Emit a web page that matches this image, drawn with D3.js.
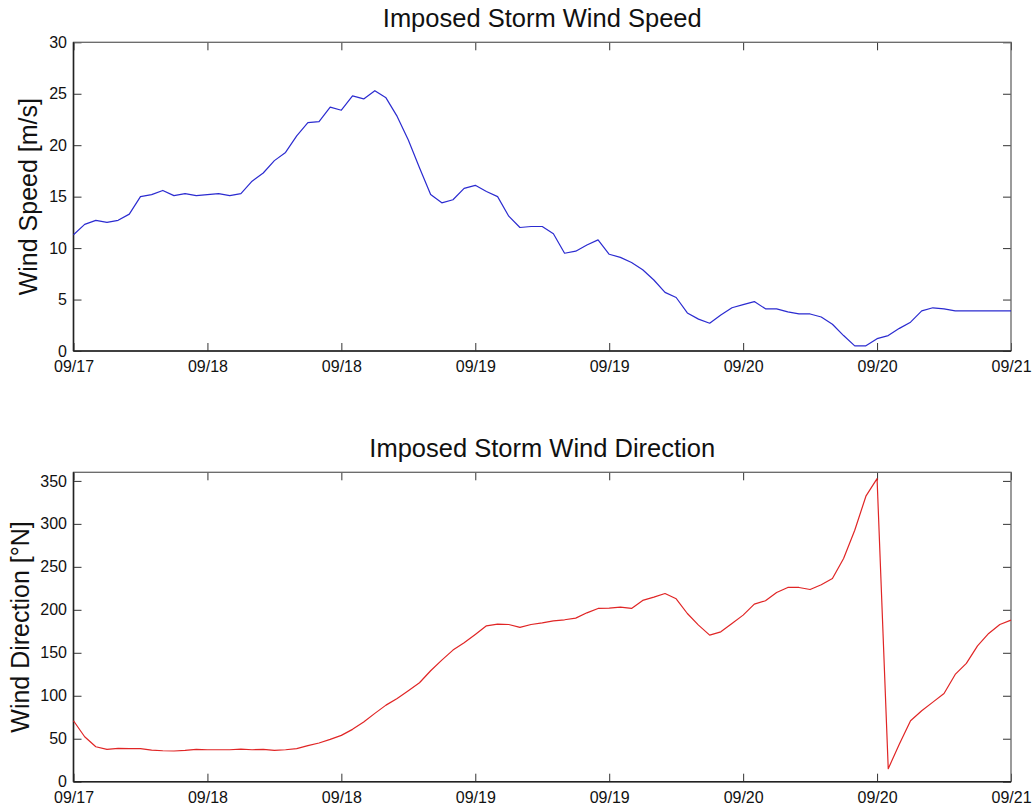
<!DOCTYPE html>
<html>
<head>
<meta charset="utf-8">
<script src="https://cdn.jsdelivr.net/npm/d3@7"></script>
<style>
  html, body { margin: 0; padding: 0; background: #fff; }
  svg { display: block; font-family: "Liberation Sans", Arial, sans-serif; }
</style>
</head>
<body>
<svg id="chart" width="1035" height="809"></svg>
<script>
// Hourly series, starting 09/17 12:00 (84 hours shown)
const speedValues = [
  11.3, 12.3, 12.7, 12.5, 12.7, 13.3, 15.0, 15.2, 15.6, 15.1,
  15.3, 15.1, 15.2, 15.3, 15.1, 15.3, 16.5, 17.3, 18.5, 19.3,
  20.9, 22.2, 22.3, 23.7, 23.4, 24.8, 24.5, 25.3, 24.6, 22.8,
  20.5, 17.8, 15.2, 14.4, 14.7, 15.8, 16.1, 15.5, 15.0, 13.1,
  12.0, 12.1, 12.1, 11.4, 9.5, 9.7, 10.3, 10.8, 9.4, 9.1,
  8.6, 7.9, 6.9, 5.7, 5.2, 3.7, 3.1, 2.7, 3.5, 4.2,
  4.5, 4.8, 4.1, 4.1, 3.8, 3.6, 3.6, 3.3, 2.6, 1.5,
  0.5, 0.5, 1.2, 1.5, 2.2, 2.8, 3.9, 4.2, 4.1, 3.9,
  3.9, 3.9, 3.9, 3.9, 3.9
];

const directionValues = [
  70.9, 52.3, 40.7, 37.6, 38.8, 38.4, 38.4, 36.8, 36.0, 35.7,
  36.4, 37.6, 37.2, 37.2, 37.2, 38.0, 37.2, 37.6, 36.4, 37.2,
  38.4, 41.9, 45.0, 49.2, 53.9, 60.9, 69.4, 79.5, 89.1, 96.9,
  105.8, 115.1, 129.1, 141.5, 153.1, 161.6, 171.3, 181.4, 183.3, 182.9,
  179.5, 182.9, 184.9, 187.2, 188.4, 190.3, 196.5, 201.6, 201.9, 203.1,
  201.6, 210.9, 214.7, 219.0, 212.8, 195.7, 182.2, 170.5, 174.4, 184.1,
  193.8, 206.6, 210.5, 220.2, 226.0, 226.0, 223.6, 229.1, 236.4, 259.7,
  292.6, 332.2, 352.7, 15.1, 43.8, 70.9, 82.6, 92.6, 102.7, 124.8,
  137.6, 158.1, 172.5, 182.9, 188.0
];

// Tick positions (hours from start) and their date labels
const xTickHours = [0, 12, 24, 36, 48, 60, 72, 84];
const xTickLabels = ["09/17", "09/18", "09/18", "09/19", "09/19", "09/20", "09/20", "09/21"];

const speedTicks = [0, 5, 10, 15, 20, 25, 30];
const directionTicks = [0, 50, 100, 150, 200, 250, 300, 350];

const svg = d3.select("#chart");
const left = 73.5, right = 1011;

const x = d3.scaleLinear().domain([0, 84]).range([left, right]);

function panel(opts) {
  const { top, bottom, yDomain, yTicks, values, color, title, ylabel, titleY, ylabelX } = opts;
  const y = d3.scaleLinear().domain(yDomain).range([bottom, top]);
  const g = svg.append("g");
  const tickLen = 8;

  // bottom axis with inward ticks
  const xb = g.append("g").attr("transform", `translate(0,${bottom})`)
    .call(d3.axisBottom(x).tickValues(xTickHours)
      .tickFormat((d, i) => xTickLabels[i]).tickSizeInner(-tickLen).tickSizeOuter(0).tickPadding(10));
  // top axis, ticks only
  const xt = g.append("g").attr("transform", `translate(0,${top})`)
    .call(d3.axisTop(x).tickValues(xTickHours).tickFormat("").tickSizeInner(-tickLen).tickSizeOuter(0));
  // left axis
  const yl = g.append("g").attr("transform", `translate(${left},0)`)
    .call(d3.axisLeft(y).tickValues(yTicks).tickSizeInner(-tickLen).tickSizeOuter(0).tickPadding(6.5));
  // right axis, ticks only
  const yr = g.append("g").attr("transform", `translate(${right},0)`)
    .call(d3.axisRight(y).tickValues(yTicks).tickFormat("").tickSizeInner(-tickLen).tickSizeOuter(0));

  [xb, xt, yl, yr].forEach(a => {
    a.select(".domain").remove();
    a.selectAll(".tick line").attr("stroke", "#333").attr("stroke-width", 1);
    a.selectAll("text").attr("fill", "#111").style("font-size", "16px")
      .style("font-family", "'Liberation Sans', Arial, sans-serif");
  });

  // frame
  g.append("rect")
    .attr("x", left).attr("y", top)
    .attr("width", right - left).attr("height", bottom - top)
    .attr("fill", "none").attr("stroke", "#666").attr("stroke-width", 1.3);
  g.append("line").attr("x1", left).attr("x2", right).attr("y1", bottom).attr("y2", bottom)
    .attr("stroke", "#222").attr("stroke-width", 1.5);
  g.append("line").attr("x1", left).attr("x2", left).attr("y1", top).attr("y2", bottom)
    .attr("stroke", "#222").attr("stroke-width", 1.5);

  // series
  g.append("path")
    .datum(values)
    .attr("fill", "none")
    .attr("stroke", color)
    .attr("stroke-width", 1.2)
    .attr("stroke-linejoin", "round")
    .attr("d", d3.line().x((d, i) => x(i)).y(d => y(d)));

  // title
  g.append("text")
    .attr("x", (left + right) / 2).attr("y", titleY)
    .attr("text-anchor", "middle")
    .style("font-size", "25.5px").attr("fill", "#111")
    .text(title);

  // y label
  g.append("text")
    .attr("transform", `translate(${ylabelX},${(top + bottom) / 2}) rotate(-90)`)
    .attr("text-anchor", "middle")
    .style("font-size", "25px").attr("fill", "#111")
    .text(ylabel);
}

panel({
  top: 42.3, bottom: 351, yDomain: [0, 30], yTicks: speedTicks,
  values: speedValues, color: "#2b2bd0",
  title: "Imposed Storm Wind Speed", ylabel: "Wind Speed [m/s]",
  titleY: 27, ylabelX: 37
});

panel({
  top: 472.3, bottom: 781.7, yDomain: [0, 360], yTicks: directionTicks,
  values: directionValues, color: "#e02525",
  title: "Imposed Storm Wind Direction", ylabel: "Wind Direction [°N]",
  titleY: 457, ylabelX: 29
});
</script>
</body>
</html>
